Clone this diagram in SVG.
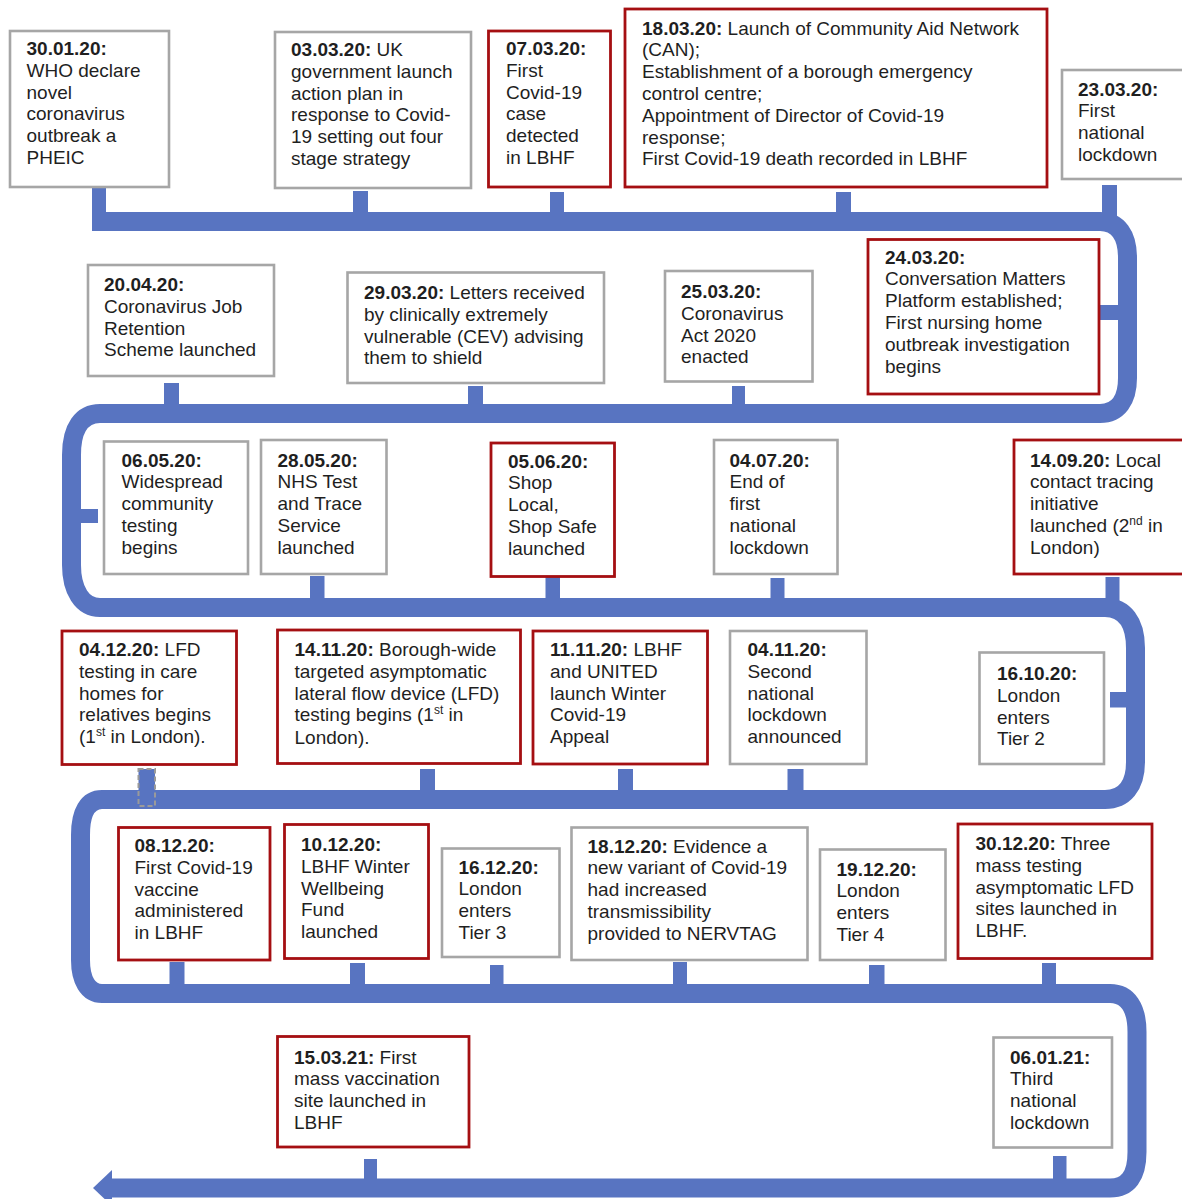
<svg xmlns="http://www.w3.org/2000/svg" width="1182" height="1199" viewBox="0 0 1182 1199">
<style>
.g{fill:#fff;stroke:#a6a6a6;stroke-width:2.6}
.r{fill:#fff;stroke:#a50f12;stroke-width:2.8}
.t{font-family:"Liberation Sans",Arial,sans-serif;font-size:19px;fill:#1f1f1f}
.b{font-weight:bold}
.bar{fill:#5874c1}
.band{fill:none;stroke:#5874c1;stroke-width:19}
.sup{font-size:12px}
</style>
<rect width="1182" height="1199" fill="#fff"/>
<g id="connectors">
<path class="band" d="M 92 221.5 H 1100 C 1118 221.5 1127.5 235 1127.5 258 V 378 C 1127.5 400 1118 413.5 1100 413.5 H 100 C 82 413.5 71.5 428 71.5 455 V 565 C 71.5 590 82 607.5 100 607.5 H 1105 C 1124 607.5 1135.5 622 1135.5 648 V 762 C 1135.5 786 1124 799.5 1105 799.5 H 102 C 88 799.5 80.5 812 80.5 835 V 960 C 80.5 980 88 993.5 102 993.5 H 1110 C 1128 993.5 1137 1008 1137 1032 V 1152 C 1137 1176 1128 1188 1110 1188 H 110"/>
<polygon class="bar" points="93,1188 112,1170 112,1206"/>
<rect class="bar" x="92" y="187" width="14" height="30"/>
<rect class="bar" x="353" y="191" width="15" height="25"/>
<rect class="bar" x="550" y="192" width="14" height="24"/>
<rect class="bar" x="836" y="192" width="15" height="24"/>
<rect class="bar" x="1102" y="185" width="15" height="31"/>
<rect class="bar" x="1099" y="305" width="21" height="15"/>
<rect class="bar" x="732" y="386" width="13" height="22"/>
<rect class="bar" x="468" y="386" width="15" height="22"/>
<rect class="bar" x="164" y="383" width="15" height="25"/>
<rect class="bar" x="76" y="509" width="22" height="14"/>
<rect class="bar" x="310" y="576" width="14.5" height="26"/>
<rect class="bar" x="545.5" y="577" width="14.5" height="25"/>
<rect class="bar" x="770.5" y="578" width="14" height="24"/>
<rect class="bar" x="1105.5" y="577" width="14" height="25"/>
<rect class="bar" x="138.5" y="769" width="16.5" height="24"/>
<rect x="138.5" y="769" width="16.5" height="37" fill="none" stroke="#9a9a9a" stroke-width="2" stroke-dasharray="5,3"/>
<rect class="bar" x="420" y="769" width="15" height="25"/>
<rect class="bar" x="618" y="769" width="15" height="25"/>
<rect class="bar" x="787.5" y="769" width="16" height="25"/>
<rect class="bar" x="1110" y="692" width="19" height="15.5"/>
<rect class="bar" x="169.5" y="962" width="15" height="26"/>
<rect class="bar" x="350" y="963" width="15" height="25"/>
<rect class="bar" x="490" y="965" width="13.5" height="23"/>
<rect class="bar" x="673" y="962" width="14" height="26"/>
<rect class="bar" x="869" y="965" width="15.5" height="23"/>
<rect class="bar" x="1042" y="963" width="14" height="25"/>
<rect class="bar" x="364" y="1159" width="13" height="24"/>
<rect class="bar" x="1053" y="1156" width="13.5" height="27"/>
</g>
<g id="n300120"><rect class="g" x="10" y="31" width="159" height="156"/>
<text class="t" x="26.5" y="55"><tspan class="b">30.01.20:</tspan><tspan x="26.5" dy="21.8">WHO declare</tspan><tspan x="26.5" dy="21.8">novel</tspan><tspan x="26.5" dy="21.8">coronavirus</tspan><tspan x="26.5" dy="21.8">outbreak a</tspan><tspan x="26.5" dy="21.8">PHEIC</tspan></text></g>
<g id="n030320"><rect class="g" x="275" y="32" width="196" height="156"/>
<text class="t" x="291" y="56"><tspan class="b">03.03.20:</tspan> UK<tspan x="291" dy="21.8">government launch</tspan><tspan x="291" dy="21.8">action plan in</tspan><tspan x="291" dy="21.8">response to Covid-</tspan><tspan x="291" dy="21.8">19 setting out four</tspan><tspan x="291" dy="21.8">stage strategy</tspan></text></g>
<g id="n070320"><rect class="r" x="488.5" y="31" width="122" height="156"/>
<text class="t" x="506" y="55"><tspan class="b">07.03.20:</tspan><tspan x="506" dy="21.8">First</tspan><tspan x="506" dy="21.8">Covid-19</tspan><tspan x="506" dy="21.8">case</tspan><tspan x="506" dy="21.8">detected</tspan><tspan x="506" dy="21.8">in LBHF</tspan></text></g>
<g id="n180320"><rect class="r" x="625" y="9" width="422" height="178"/>
<text class="t" x="642" y="34.5"><tspan class="b">18.03.20:</tspan> Launch of Community Aid Network<tspan x="642" dy="21.8">(CAN);</tspan><tspan x="642" dy="21.8">Establishment of a borough emergency</tspan><tspan x="642" dy="21.8">control centre;</tspan><tspan x="642" dy="21.8">Appointment of Director of Covid-19</tspan><tspan x="642" dy="21.8">response;</tspan><tspan x="642" dy="21.8">First Covid-19 death recorded in LBHF</tspan></text></g>
<g id="n230320"><rect class="g" x="1062" y="70" width="130" height="109"/>
<text class="t" x="1078" y="95.5"><tspan class="b">23.03.20:</tspan><tspan x="1078" dy="21.8">First</tspan><tspan x="1078" dy="21.8">national</tspan><tspan x="1078" dy="21.8">lockdown</tspan></text></g>
<g id="n200420"><rect class="g" x="88" y="265" width="186" height="111"/>
<text class="t" x="104" y="291"><tspan class="b">20.04.20:</tspan><tspan x="104" dy="21.8">Coronavirus Job</tspan><tspan x="104" dy="21.8">Retention</tspan><tspan x="104" dy="21.8">Scheme launched</tspan></text></g>
<g id="n290320"><rect class="g" x="347.5" y="272.5" width="256.5" height="110.5"/>
<text class="t" x="364" y="299"><tspan class="b">29.03.20:</tspan> Letters received<tspan x="364" dy="21.8">by clinically extremely</tspan><tspan x="364" dy="21.8">vulnerable (CEV) advising</tspan><tspan x="364" dy="21.8">them to shield</tspan></text></g>
<g id="n250320"><rect class="g" x="665" y="271" width="147.5" height="110.5"/>
<text class="t" x="681" y="298"><tspan class="b">25.03.20:</tspan><tspan x="681" dy="21.8">Coronavirus</tspan><tspan x="681" dy="21.8">Act 2020</tspan><tspan x="681" dy="21.8">enacted</tspan></text></g>
<g id="n240320"><rect class="r" x="868" y="239.5" width="231" height="154.5"/>
<text class="t" x="885" y="263.5"><tspan class="b">24.03.20:</tspan><tspan x="885" dy="21.8">Conversation Matters</tspan><tspan x="885" dy="21.8">Platform established;</tspan><tspan x="885" dy="21.8">First nursing home</tspan><tspan x="885" dy="21.8">outbreak investigation</tspan><tspan x="885" dy="21.8">begins</tspan></text></g>
<g id="n060520"><rect class="g" x="104" y="441.5" width="144" height="132.5"/>
<text class="t" x="121.5" y="466.5"><tspan class="b">06.05.20:</tspan><tspan x="121.5" dy="21.8">Widespread</tspan><tspan x="121.5" dy="21.8">community</tspan><tspan x="121.5" dy="21.8">testing</tspan><tspan x="121.5" dy="21.8">begins</tspan></text></g>
<g id="n280520"><rect class="g" x="261" y="440" width="125.5" height="134"/>
<text class="t" x="277.5" y="466.5"><tspan class="b">28.05.20:</tspan><tspan x="277.5" dy="21.8">NHS Test</tspan><tspan x="277.5" dy="21.8">and Trace</tspan><tspan x="277.5" dy="21.8">Service</tspan><tspan x="277.5" dy="21.8">launched</tspan></text></g>
<g id="n050620"><rect class="r" x="491" y="443" width="123.5" height="133.5"/>
<text class="t" x="508" y="467.5"><tspan class="b">05.06.20:</tspan><tspan x="508" dy="21.8">Shop</tspan><tspan x="508" dy="21.8">Local,</tspan><tspan x="508" dy="21.8">Shop Safe</tspan><tspan x="508" dy="21.8">launched</tspan></text></g>
<g id="n040720"><rect class="g" x="714" y="440" width="123.5" height="134"/>
<text class="t" x="729.5" y="466.5"><tspan class="b">04.07.20:</tspan><tspan x="729.5" dy="21.8">End of</tspan><tspan x="729.5" dy="21.8">first</tspan><tspan x="729.5" dy="21.8">national</tspan><tspan x="729.5" dy="21.8">lockdown</tspan></text></g>
<g id="n140920"><rect class="r" x="1014" y="440" width="180" height="134"/>
<text class="t" x="1030" y="466.5"><tspan class="b">14.09.20:</tspan> Local<tspan x="1030" dy="21.8">contact tracing</tspan><tspan x="1030" dy="21.8">initiative</tspan><tspan x="1030" dy="21.8">launched (2</tspan><tspan class="sup" dy="-7">nd</tspan><tspan dy="7"> in</tspan><tspan x="1030" dy="21.8">London)</tspan></text></g>
<g id="n041220"><rect class="r" x="62" y="631" width="174.5" height="133.5"/>
<text class="t" x="79" y="656"><tspan class="b">04.12.20:</tspan> LFD<tspan x="79" dy="21.8">testing in care</tspan><tspan x="79" dy="21.8">homes for</tspan><tspan x="79" dy="21.8">relatives begins</tspan><tspan x="79" dy="21.8">(1</tspan><tspan class="sup" dy="-7">st</tspan><tspan dy="7"> in London).</tspan></text></g>
<g id="n141120"><rect class="r" x="277.5" y="630" width="243" height="133.5"/>
<text class="t" x="294.5" y="656"><tspan class="b">14.11.20:</tspan> Borough-wide<tspan x="294.5" dy="21.8">targeted asymptomatic</tspan><tspan x="294.5" dy="21.8">lateral flow device (LFD)</tspan><tspan x="294.5" dy="21.8">testing begins (1</tspan><tspan class="sup" dy="-7">st</tspan><tspan dy="7"> in</tspan><tspan x="294.5" dy="23">London).</tspan></text></g>
<g id="n111120"><rect class="r" x="533" y="631" width="174.5" height="133"/>
<text class="t" x="550" y="656"><tspan class="b">11.11.20:</tspan> LBHF<tspan x="550" dy="21.8">and UNITED</tspan><tspan x="550" dy="21.8">launch Winter</tspan><tspan x="550" dy="21.8">Covid-19</tspan><tspan x="550" dy="21.8">Appeal</tspan></text></g>
<g id="n041120"><rect class="g" x="730" y="631" width="136.5" height="133"/>
<text class="t" x="747.5" y="656"><tspan class="b">04.11.20:</tspan><tspan x="747.5" dy="21.8">Second</tspan><tspan x="747.5" dy="21.8">national</tspan><tspan x="747.5" dy="21.8">lockdown</tspan><tspan x="747.5" dy="21.8">announced</tspan></text></g>
<g id="n161020"><rect class="g" x="979.5" y="652.5" width="124.5" height="111.5"/>
<text class="t" x="997" y="680"><tspan class="b">16.10.20:</tspan><tspan x="997" dy="21.8">London</tspan><tspan x="997" dy="21.8">enters</tspan><tspan x="997" dy="21.8">Tier 2</tspan></text></g>
<g id="n081220"><rect class="r" x="118.5" y="827.5" width="151.5" height="132.5"/>
<text class="t" x="134.5" y="852"><tspan class="b">08.12.20:</tspan><tspan x="134.5" dy="21.8">First Covid-19</tspan><tspan x="134.5" dy="21.8">vaccine</tspan><tspan x="134.5" dy="21.8">administered</tspan><tspan x="134.5" dy="21.8">in LBHF</tspan></text></g>
<g id="n101220"><rect class="r" x="284.5" y="824.5" width="144" height="134"/>
<text class="t" x="301" y="851"><tspan class="b">10.12.20:</tspan><tspan x="301" dy="21.8">LBHF Winter</tspan><tspan x="301" dy="21.8">Wellbeing</tspan><tspan x="301" dy="21.8">Fund</tspan><tspan x="301" dy="21.8">launched</tspan></text></g>
<g id="n161220"><rect class="g" x="442" y="848.5" width="117.5" height="108.5"/>
<text class="t" x="458.5" y="873.5"><tspan class="b">16.12.20:</tspan><tspan x="458.5" dy="21.8">London</tspan><tspan x="458.5" dy="21.8">enters</tspan><tspan x="458.5" dy="21.8">Tier 3</tspan></text></g>
<g id="n181220"><rect class="g" x="571.5" y="827.5" width="236" height="132.5"/>
<text class="t" x="587.5" y="852.5"><tspan class="b">18.12.20:</tspan> Evidence a<tspan x="587.5" dy="21.8">new variant of Covid-19</tspan><tspan x="587.5" dy="21.8">had increased</tspan><tspan x="587.5" dy="21.8">transmissibility</tspan><tspan x="587.5" dy="21.8">provided to NERVTAG</tspan></text></g>
<g id="n191220"><rect class="g" x="820" y="849.5" width="125.5" height="110.5"/>
<text class="t" x="836.5" y="875.5"><tspan class="b">19.12.20:</tspan><tspan x="836.5" dy="21.8">London</tspan><tspan x="836.5" dy="21.8">enters</tspan><tspan x="836.5" dy="21.8">Tier 4</tspan></text></g>
<g id="n301220"><rect class="r" x="958" y="824" width="194" height="134.5"/>
<text class="t" x="975.5" y="850"><tspan class="b">30.12.20:</tspan> Three<tspan x="975.5" dy="21.8">mass testing</tspan><tspan x="975.5" dy="21.8">asymptomatic LFD</tspan><tspan x="975.5" dy="21.8">sites launched in</tspan><tspan x="975.5" dy="21.8">LBHF.</tspan></text></g>
<g id="n150321"><rect class="r" x="277.5" y="1036.5" width="191.5" height="110.5"/>
<text class="t" x="294" y="1063.5"><tspan class="b">15.03.21:</tspan> First<tspan x="294" dy="21.8">mass vaccination</tspan><tspan x="294" dy="21.8">site launched in</tspan><tspan x="294" dy="21.8">LBHF</tspan></text></g>
<g id="n060121"><rect class="g" x="993.5" y="1037.5" width="118.5" height="110"/>
<text class="t" x="1010" y="1063.5"><tspan class="b">06.01.21:</tspan><tspan x="1010" dy="21.8">Third</tspan><tspan x="1010" dy="21.8">national</tspan><tspan x="1010" dy="21.8">lockdown</tspan></text></g>
</svg>
